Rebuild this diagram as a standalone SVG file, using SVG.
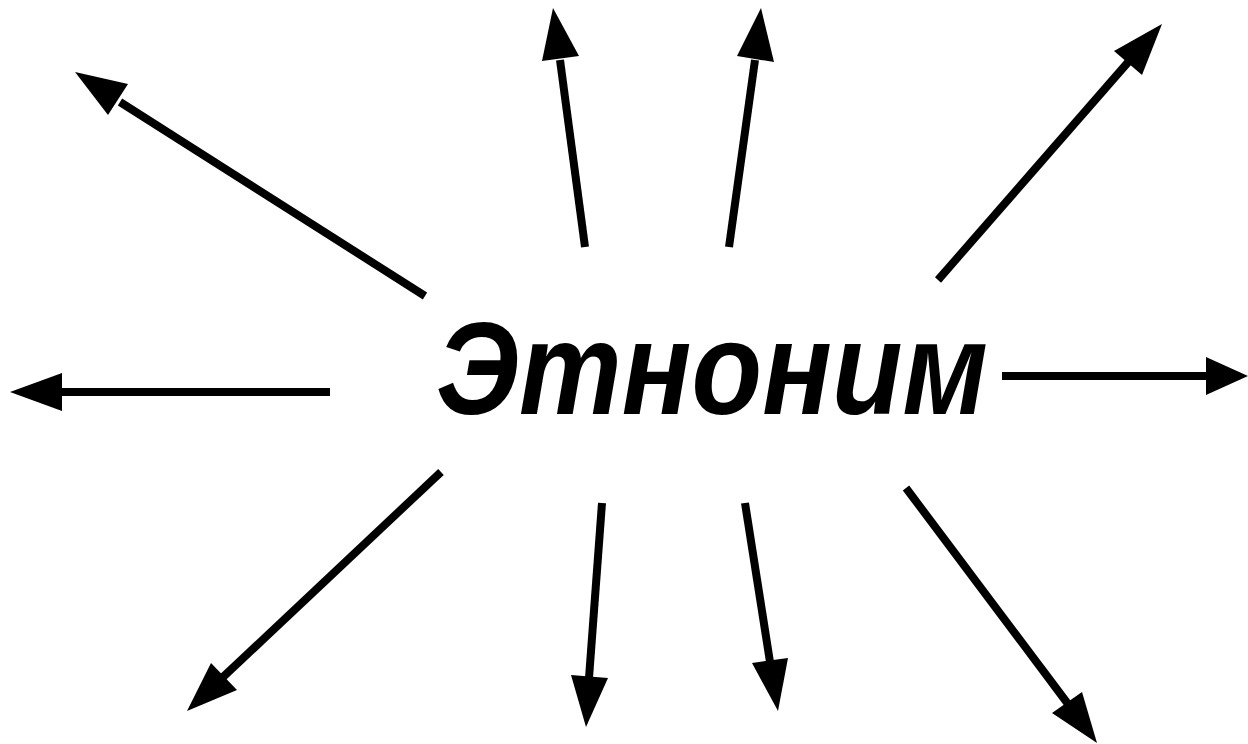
<svg xmlns="http://www.w3.org/2000/svg" width="1248" height="744" viewBox="0 0 1248 744">
<style>
.c{stroke:#000;stroke-width:8;fill:none}
.h{fill:#000;stroke:none}
.t{font-family:"Liberation Sans",Arial,sans-serif;font-weight:bold;font-style:italic;font-size:132px;fill:#000}
</style>
<rect width="1248" height="744" fill="#fff"/>
<g id="node-etnonim">
<text class="t" x="436" y="414" textLength="552" lengthAdjust="spacingAndGlyphs">Этноним</text>
</g>
<g id="connectors">
<line class="c" x1="330" y1="392" x2="58" y2="392"/>
<polygon class="h" points="10,392 62,373 62,411"/>
<line class="c" x1="1002" y1="376" x2="1210" y2="376"/>
<polygon class="h" points="1248,376 1206,357 1206,395"/>
<line class="c" x1="425" y1="296" x2="120" y2="102"/>
<polygon class="h" points="75,72 128,84 108,115"/>
<line class="c" x1="585" y1="247" x2="560" y2="60"/>
<polygon class="h" points="553,8 542,61 579,56"/>
<line class="c" x1="729" y1="247" x2="755" y2="60"/>
<polygon class="h" points="761,8 737,56 774,62"/>
<line class="c" x1="938" y1="280" x2="1130" y2="60"/>
<polygon class="h" points="1162,24 1114,51 1142,75"/>
<line class="c" x1="441" y1="472" x2="222" y2="678"/>
<polygon class="h" points="187,711 211,663 237,690"/>
<line class="c" x1="602" y1="503" x2="589" y2="678"/>
<polygon class="h" points="586,727 571,675 608,678"/>
<line class="c" x1="745" y1="503" x2="770" y2="662"/>
<polygon class="h" points="778,711 752,663 788,658"/>
<line class="c" x1="906" y1="488" x2="1068" y2="704"/>
<polygon class="h" points="1097,743 1052,713 1082,692"/>
</g>
</svg>
